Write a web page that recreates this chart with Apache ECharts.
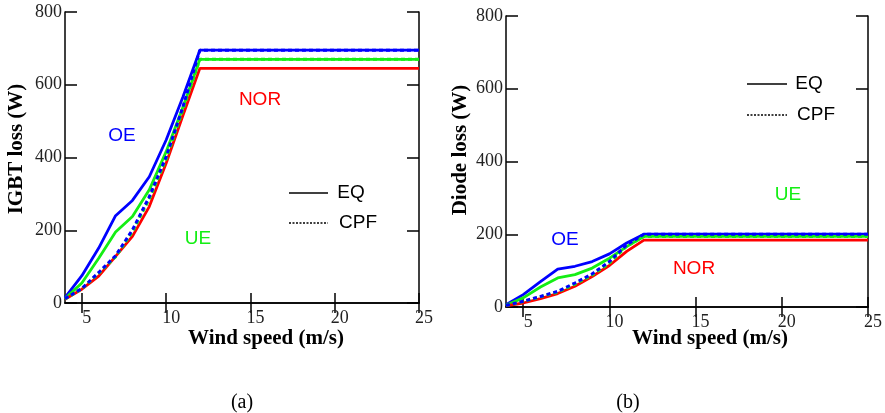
<!DOCTYPE html>
<html>
<head>
<meta charset="utf-8">
<script src="https://cdn.jsdelivr.net/npm/echarts@6.0.0/dist/echarts.min.js"></script>
<style>
html,body{margin:0;padding:0;background:#fff;}
#chart{width:885px;height:413px;}
</style>
</head>
<body>
<div id="chart"></div>
<script>
// ---- data ----
const windSpeed = [4, 5, 6, 7, 8, 9, 10, 11, 12, 25];
const xTicks = [5, 10, 15, 20, 25];
const yTicks = [0, 200, 400, 600, 800];

// IGBT loss (W)
const igbtOE_EQ  = [15, 75, 151, 240, 282, 347, 448, 567, 695, 695];
const igbtUE_EQ  = [12, 55, 123, 195, 238, 311, 416, 539, 670, 670];
const igbtNOR_EQ = [10, 38, 74, 128, 183, 265, 384, 516, 645, 645];
const igbtOE_CPF = [12, 40, 84, 130, 201, 292, 402, 540, 695, 695];
const igbtUE_CPF = [11, 39, 82, 127, 196, 286, 396, 532, 670, 670];

// Diode loss (W)
const diodeOE_EQ  = [6, 34, 70, 104, 112, 125, 146, 176, 200, 200];
const diodeUE_EQ  = [5, 25, 55, 80, 89, 107, 134, 166, 194, 194];
const diodeNOR_EQ = [3, 11, 23, 37, 57, 84, 114, 153, 184, 184];
const diodeOE_CPF = [4, 16, 29, 43, 66, 91, 125, 171, 200, 200];
const diodeUE_CPF = [4, 15, 28, 41, 63, 88, 121, 167, 194, 194];

const BLUE = '#0000ff', GREEN = '#14ee14', RED = '#ff0000';
const SERIF = '"Liberation Serif","Times New Roman",serif';
const SANS = '"Liberation Sans",Arial,sans-serif';

function pairs(xs, ys) { return xs.map((x, i) => [x, ys[i]]); }

function xAxes(gi) {
  const base = {
    type: 'value', gridIndex: gi, min: 4, max: 25,
    axisLine: { show: true, lineStyle: { color: '#000', width: 1.5 } },
    splitLine: { show: false }
  };
  return [
    Object.assign({}, base, {
      position: 'bottom',
      axisTick: { show: true, inside: true, length: 10, customValues: xTicks, lineStyle: { color: '#000', width: 1.5 } },
      axisLabel: { show: true, customValues: xTicks, margin: 6, padding: [0, 0, 0, 10],
        fontFamily: SERIF, fontSize: 18, color: '#222' }
    }),
    Object.assign({}, base, {
      position: 'top',
      axisTick: { show: true, inside: true, length: 10, customValues: xTicks, lineStyle: { color: '#000', width: 1.5 } },
      axisLabel: { show: false }
    })
  ];
}
function yAxes(gi) {
  const base = {
    type: 'value', gridIndex: gi, min: 0, max: 800, interval: 200,
    axisLine: { show: true, lineStyle: { color: '#000', width: 1.5 } },
    splitLine: { show: false }
  };
  return [
    Object.assign({}, base, {
      position: 'left',
      axisTick: { show: true, inside: true, length: 12, lineStyle: { color: '#000', width: 1.5 } },
      axisLabel: { show: true, margin: 3, fontFamily: SERIF, fontSize: 18, color: '#222' }
    }),
    Object.assign({}, base, {
      position: 'right',
      axisTick: { show: true, inside: true, length: 12, lineStyle: { color: '#000', width: 1.5 } },
      axisLabel: { show: false }
    })
  ];
}

function line(xi, yi, data, color, dashed) {
  return {
    type: 'line', xAxisIndex: xi, yAxisIndex: yi, data: data,
    symbol: 'none', silent: true, animation: false,
    lineStyle: { color: color, width: dashed ? 3 : 2.8, type: dashed ? [4, 3] : 'solid' }
  };
}

function txt(x, y, text, color, font, rot) {
  return {
    type: 'text', x: x, y: y, rotation: rot || 0, silent: true,
    style: { text: text, fill: color, font: font, align: 'center', verticalAlign: 'middle' }
  };
}
function legLine(x1, x2, y, dashed) {
  return {
    type: 'line', silent: true,
    shape: { x1: x1, y1: y, x2: x2, y2: y },
    style: { stroke: '#000', lineWidth: 1.5, lineDash: dashed ? [2, 1.5] : null }
  };
}

const option = {
  backgroundColor: '#fff',
  animation: false,
  grid: [
    { left: 65, top: 12, width: 354, height: 291 },
    { left: 506, top: 16, width: 366, height: 291 }
  ],
  xAxis: xAxes(0).concat(xAxes(1)),
  yAxis: yAxes(0).concat(yAxes(1)),
  series: [
    line(0, 0, pairs(windSpeed, igbtOE_EQ), BLUE, false),
    line(0, 0, pairs(windSpeed, igbtUE_EQ), GREEN, false),
    line(0, 0, pairs(windSpeed, igbtNOR_EQ), RED, false),
    line(0, 0, pairs(windSpeed, igbtUE_CPF), GREEN, true),
    line(0, 0, pairs(windSpeed, igbtOE_CPF), BLUE, true),
    line(2, 2, pairs(windSpeed, diodeOE_EQ), BLUE, false),
    line(2, 2, pairs(windSpeed, diodeUE_EQ), GREEN, false),
    line(2, 2, pairs(windSpeed, diodeNOR_EQ), RED, false),
    line(2, 2, pairs(windSpeed, diodeUE_CPF), GREEN, true),
    line(2, 2, pairs(windSpeed, diodeOE_CPF), BLUE, true)
  ],
  graphic: [
    // axis titles
    txt(17, 149, 'IGBT loss (W)', '#000', 'bold 21px ' + SERIF, Math.PI / 2),
    txt(266, 339, 'Wind speed (m/s)', '#000', 'bold 21px ' + SERIF),
    txt(461, 150, 'Diode loss (W)', '#000', 'bold 21px ' + SERIF, Math.PI / 2),
    txt(710, 339, 'Wind speed (m/s)', '#000', 'bold 21px ' + SERIF),
    // captions
    txt(242, 403, '(a)', '#000', '20px ' + SERIF),
    txt(628, 403, '(b)', '#000', '20px ' + SERIF),
    // region labels
    txt(122, 136, 'OE', BLUE, '19px ' + SANS),
    txt(260, 100, 'NOR', RED, '19px ' + SANS),
    txt(198, 239, 'UE', GREEN, '19px ' + SANS),
    txt(565, 240, 'OE', BLUE, '19px ' + SANS),
    txt(788, 195, 'UE', GREEN, '19px ' + SANS),
    txt(694, 269, 'NOR', RED, '19px ' + SANS),
    // legends
    legLine(289, 328, 193, false),
    legLine(289, 328, 223, true),
    txt(351, 193, 'EQ', '#000', '19px ' + SANS),
    txt(358, 223, 'CPF', '#000', '19px ' + SANS),
    legLine(747, 787, 84, false),
    legLine(747, 787, 115, true),
    txt(809, 84, 'EQ', '#000', '19px ' + SANS),
    txt(816, 115, 'CPF', '#000', '19px ' + SANS)
  ]
};

const chart = echarts.init(document.getElementById('chart'), null, { renderer: 'canvas' });
chart.setOption(option);
</script>
</body>
</html>
